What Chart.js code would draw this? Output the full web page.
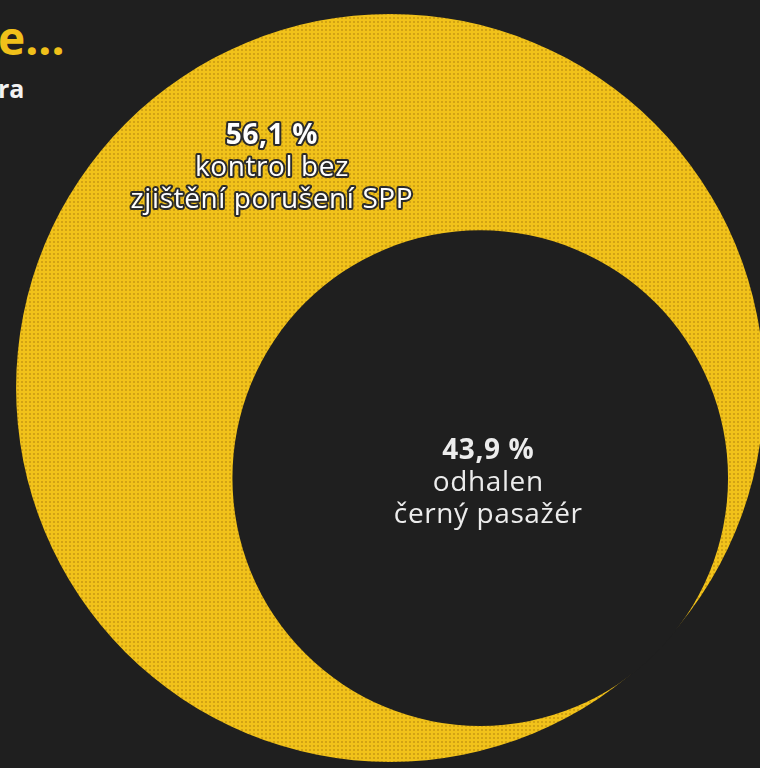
<!DOCTYPE html>
<html lang="cs">
<head>
<meta charset="utf-8">
<title>Kontroly v MHD</title>
<script src="https://cdn.jsdelivr.net/npm/chart.js@4.4.1/dist/chart.umd.min.js"></script>
<style>
  html, body { margin: 0; padding: 0; background: #1f1f1f; overflow: hidden; }
  #wrap { position: relative; width: 760px; height: 768px; }
  #wrap canvas { position: absolute; left: 0; top: 0; }
  .frag { position: absolute; font-family: "Open Sans", "Noto Sans", sans-serif; font-weight: 700; white-space: nowrap; }
  #t1 { left: -2px; top: 14px; font-size: 46px; line-height: 46px; color: #f0c01a; }
  #t2 { left: -2px; top: 76px; font-size: 25px; line-height: 25px; color: #f2f2f2; }
</style>
</head>
<body>
<div id="wrap">
  <div class="frag" id="t1">e...</div>
  <div class="frag" id="t2">ra</div>
  <canvas id="chart"></canvas>
</div>
<script>
// what the checks ended with, in percent of all checks
const categories = ["kontrol bez zjištění porušení SPP", "odhalen černý pasažér"];
const shares = [56.1, 43.9];
const labelLines = [["kontrol bez", "zjištění porušení SPP"], ["odhalen", "černý pasažér"]];

// axis ranges, in units of the big circle's radius
const xRange = [-1.043, 0.989];
const yRange = [-1.016, 1.037];

const total = shares.reduce((a, b) => a + b, 0);
const fmt = (v) => v.toFixed(1).replace(".", ",") + " %";

// circle area ~ value: the big circle is all checks, the dark one sits inside it,
// touching its lower right edge
const innerRel = Math.sqrt(shares[1] / total);
const innerShift = (1 - innerRel) * 1.01;
const innerPos = { x: innerShift * Math.SQRT1_2, y: -innerShift * Math.SQRT1_2, v: shares[1] };
const outerPos = { x: 0, y: 0, v: total };

// halftone yellow fill
function dots() {
  const c = document.createElement("canvas");
  c.width = 4; c.height = 4;
  const g = c.getContext("2d");
  g.fillStyle = "#f1c21a";
  g.fillRect(0, 0, 4, 4);
  g.fillStyle = "#d2a314";
  g.fillRect(1, 1, 2, 2);
  return g.createPattern(c, "repeat");
}
const yellow = dots();

// pixels per axis unit (the scale has no pixels yet when options get resolved,
// so work it out from the plot width and the axis range)
function unitPx(chart) {
  const w = chart.chartArea ? chart.chartArea.right - chart.chartArea.left : chart.width;
  return w / (xRange[1] - xRange[0]);
}

function radiusOf(ctx) {
  if (!ctx.raw) return 0;
  return unitPx(ctx.chart) * Math.sqrt(ctx.raw.v / total);
}

function drawLines(g, lines, x, y, step, outline) {
  const start = y - step * (lines.length - 1) / 2;
  g.letterSpacing = "0.6px";
  lines.forEach((ln, i) => {
    g.font = (i === 0 ? "700 " : "400 ") + "28px 'Open Sans', 'Noto Sans', sans-serif";
    const yy = start + i * step;
    if (outline) {
      g.lineJoin = "round";
      g.lineWidth = 4;
      g.strokeStyle = "#2b2b2b";
      g.strokeText(ln, x, yy);
    }
    g.fillStyle = outline ? "#ffffff" : "#ececec";
    g.fillText(ln, x, yy);
  });
}

const labelPlugin = {
  id: "circleLabels",
  afterDatasetsDraw(chart) {
    const g = chart.ctx;
    const outer = chart.getDatasetMeta(1).data[0];
    const inner = chart.getDatasetMeta(0).data[0];
    const R = outer.options.radius;
    g.save();
    g.textAlign = "center";
    g.textBaseline = "middle";
    drawLines(g, [fmt(shares[0])].concat(labelLines[0]), outer.x - 0.316 * R, outer.y - 0.588 * R, 32, true);
    drawLines(g, [fmt(shares[1])].concat(labelLines[1]), inner.x + 8, inner.y + 5, 32, false);
    g.restore();
  }
};

new Chart(document.getElementById("chart"), {
  type: "bubble",
  data: {
    datasets: [
      {
        label: categories[1],
        data: [innerPos],
        backgroundColor: "#1f1f1f",
        hoverBackgroundColor: "#1f1f1f",
        borderWidth: 0,
        hoverBorderWidth: 0,
        radius: radiusOf,
        hoverRadius: 0
      },
      {
        label: categories[0],
        data: [outerPos],
        backgroundColor: yellow,
        hoverBackgroundColor: yellow,
        borderWidth: 0,
        hoverBorderWidth: 0,
        radius: radiusOf,
        hoverRadius: 0
      }
    ]
  },
  options: {
    responsive: true,
    maintainAspectRatio: false,
    animation: false,
    layout: { padding: 0, autoPadding: false },
    scales: {
      x: { type: "linear", display: false, min: xRange[0], max: xRange[1] },
      y: { type: "linear", display: false, min: yRange[0], max: yRange[1] }
    },
    plugins: {
      legend: { display: false },
      tooltip: {
        callbacks: {
          label: (c) => c.datasetIndex === 0
            ? categories[1] + ": " + fmt(shares[1])
            : categories[0] + ": " + fmt(shares[0])
        }
      }
    }
  },
  plugins: [labelPlugin]
});
</script>
</body>
</html>
